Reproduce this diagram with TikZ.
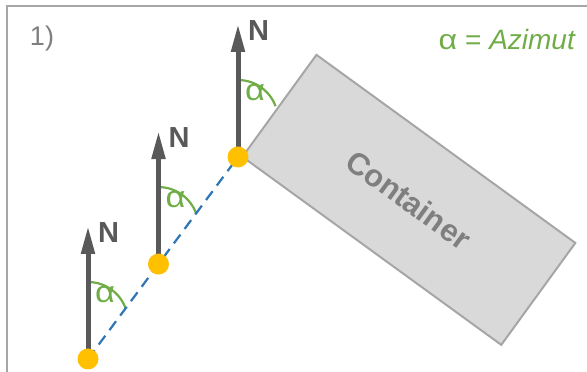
\documentclass[tikz,border=0pt]{standalone}
\usepackage{fontspec}
\usepackage{graphicx}
\setmainfont{Liberation Sans}
\usetikzlibrary{positioning,arrows.meta,calc}
\definecolor{ArrowGray}{HTML}{595959}
\definecolor{AngleGreen}{HTML}{70AD47}
\definecolor{PathBlue}{HTML}{2E75B6}
\definecolor{PointGold}{HTML}{FFC000}
\definecolor{BoxFill}{HTML}{D9D9D9}
\definecolor{BoxLine}{HTML}{A6A6A6}
\definecolor{LabelGray}{HTML}{7F7F7F}
% the alpha of the picture is a wide one
\newcommand{\widealpha}{\scalebox{1.15}[1]{α}}

\begin{document}
\begin{tikzpicture}[x=1pt,y=1pt,
    northarrow/.style={draw=ArrowGray,line width=5pt,-{Triangle[length=28pt,width=13pt]}},
    nlabel/.style={anchor=north west,inner sep=0pt,text=ArrowGray,font=\bfseries\fontsize{29}{29}\selectfont},
    anglearc/.style={draw=AngleGreen,line width=2.2pt},
    alphalabel/.style={inner sep=0pt,text=AngleGreen,font=\fontsize{30}{30}\selectfont},
    pathline/.style={draw=PathBlue,line width=2.2pt,dash pattern=on 11pt off 7pt},
    dot/.style={circle,fill=PointGold,minimum size=21pt,inner sep=0pt},
    container/.style={draw=BoxLine,fill=BoxFill,line width=2pt,minimum width=320pt,minimum height=126pt,
      inner sep=0pt,text=LabelGray,font=\bfseries\fontsize{31}{31}\selectfont}]
  \useasboundingbox (0,0) rectangle (587,372);
  % frame, cut by the page
  \draw[BoxLine,line width=1.5pt] (7,0) |- (587,366);
  \node[inner sep=0pt,text=LabelGray,font=\fontsize{27}{27}\selectfont] (stepno) at (42,333) {1)};
  \node[anchor=east,inner sep=0pt,text=AngleGreen,font=\fontsize{28}{28}\selectfont] (legend) at (576,333) {\widealpha{} = \textit{Azimut}};

  % measuring points
  \coordinate (p1) at (88,13);
  \coordinate (p3) at (238,215);
  \coordinate (p2) at ($(p1)!0.47!(p3)$);

  \node[container,rotate=-36,anchor=south west] (box) at ($(p3)+(3,0)$) {Container};

  \foreach \p in {p1,p2,p3}{
    \coordinate (\p tip) at ($(\p)+(0,133)$);
    \draw[anglearc] ($(\p)+(0,37)$) ++(90:40) arc[start angle=90,end angle=20,radius=40];
    \node[alphalabel] (\p alpha) at ($(\p)+(17,64)$) {\widealpha};
    \draw[northarrow] (\p) -- (\p tip);
    \node[nlabel] (\p n) at ($(\p tip)+(10,4)$) {N};
  }
  \draw[pathline] (p1) -- (p3);
  \foreach \p in {p1,p2,p3}
    \node[dot] (\p dot) at (\p) {};
\end{tikzpicture}
\end{document}
